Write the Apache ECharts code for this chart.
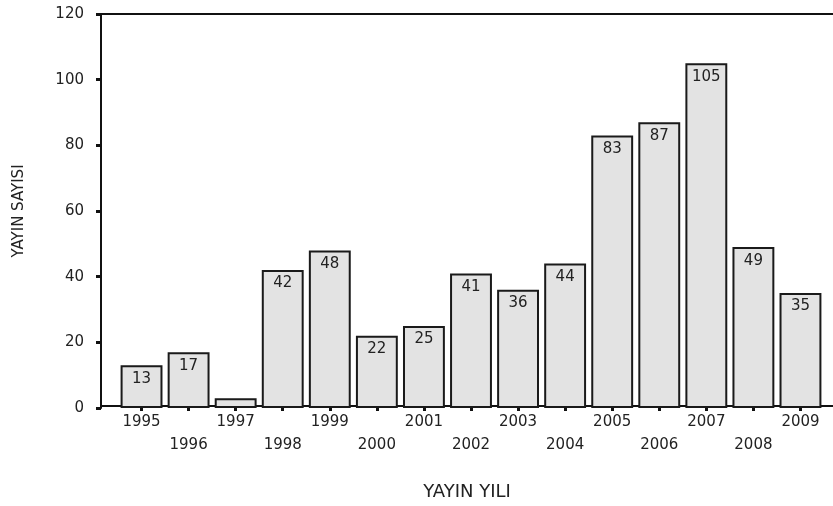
<!DOCTYPE html>
<html>
<head>
<meta charset="utf-8">
<script src="https://cdn.jsdelivr.net/npm/echarts@6/dist/echarts.min.js"></script>
<style>html,body{margin:0;padding:0;background:#fff}#c{width:833px;height:506px}</style>
</head>
<body>
<div id="c"></div>
<script>
var years = ['1995','1996','1997','1998','1999','2000','2001','2002','2003','2004','2005','2006','2007','2008','2009'];
var counts = [13, 17, 3, 42, 48, 22, 25, 41, 36, 44, 83, 87, 105, 49, 35];
var yTicks = [0, 20, 40, 60, 80, 100, 120];
var xTitle = 'YAYIN YILI';
var yTitle = 'YAYIN SAYISI';

var FONT = 'DejaVu Sans';
var chart = echarts.init(document.getElementById('c'));
chart.setOption({
  animation: false,
  backgroundColor: '#fff',
  grid: [
    {left: 118, right: 9, top: 14, bottom: 98},
    {left: 101, right: 0, top: 14, bottom: 98}
  ],
  xAxis: [
    {
      type: 'category', gridIndex: 0, data: years,
      axisLine: {show: false},
      axisTick: {show: true, alignWithLabel: true, length: 3, lineStyle: {color: '#111', width: 3}},
      axisLabel: {
        margin: 3, color: '#222', fontFamily: FONT, fontSize: 15, lineHeight: 23,
        interval: 0,
        formatter: function (v, i) { return i % 2 ? '\n' + v : v; }
      }
    },
    {
      type: 'value', gridIndex: 1, position: 'bottom', min: 0, max: 1,
      axisLine: {show: true, onZero: false, lineStyle: {color: '#111', width: 2}},
      axisTick: {show: false}, axisLabel: {show: false}, splitLine: {show: false},
      name: xTitle, nameLocation: 'middle', nameGap: 77,
      nameTextStyle: {color: '#222', fontFamily: FONT, fontSize: 18}
    },
    {
      type: 'value', gridIndex: 1, position: 'top', min: 0, max: 1,
      axisLine: {show: true, onZero: false, lineStyle: {color: '#111', width: 2}},
      axisTick: {show: false}, axisLabel: {show: false}, splitLine: {show: false}
    }
  ],
  yAxis: [
    {
      type: 'value', gridIndex: 0, min: 0, max: 120, interval: 20, offset: 17,
      axisLine: {show: true, lineStyle: {color: '#111', width: 2}},
      axisTick: {show: true, length: 5, lineStyle: {color: '#111', width: 3}},
      axisLabel: {
        margin: 17, color: '#222', fontFamily: FONT, fontSize: 15,
        formatter: function (v) { return yTicks.indexOf(v) >= 0 ? String(v) : ''; }
      },
      splitLine: {show: false},
      name: yTitle, nameLocation: 'middle', nameGap: 74,
      nameTextStyle: {color: '#222', fontFamily: FONT, fontSize: 15}
    },
    {
      type: 'value', gridIndex: 1, show: false, min: 0, max: 1
    }
  ],
  series: [{
    type: 'bar',
    xAxisIndex: 0, yAxisIndex: 0,
    barCategoryGap: '11%',
    itemStyle: {color: '#e3e3e3', borderColor: '#1a1a1a', borderWidth: 2},
    label: {
      show: true, position: 'insideTop', distance: 6,
      color: '#222', fontFamily: FONT, fontSize: 15
    },
    data: counts.map(function (v) {
      return v < 5 ? {value: v, label: {show: false}} : v;
    })
  }]
});
</script>
</body>
</html>
